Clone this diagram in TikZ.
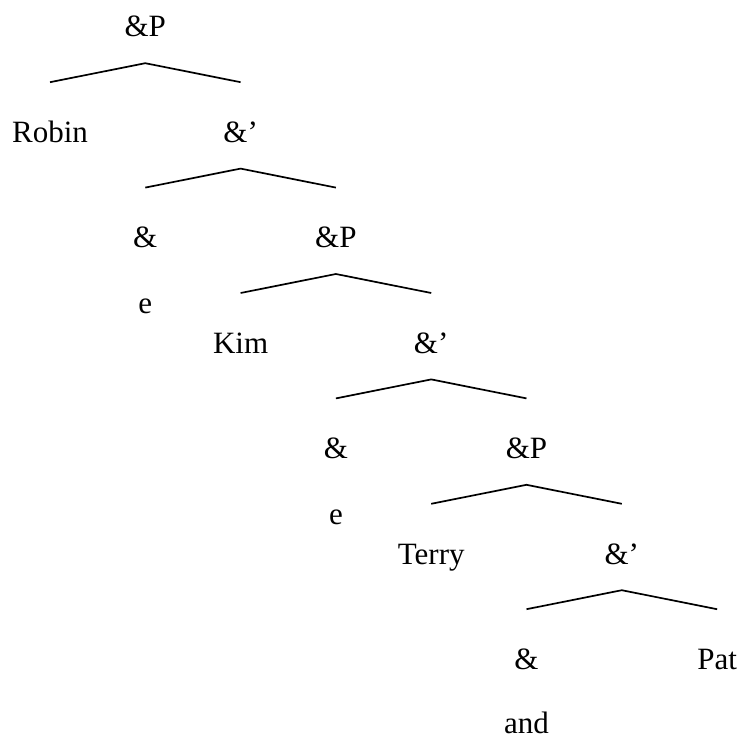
\documentclass[tikz,border=0pt]{standalone}
\usepackage{fontspec}
\setmainfont{Liberation Serif}
\begin{document}
\begin{tikzpicture}[x=1pt,y=-1pt,
  word/.style={anchor=base,inner sep=0pt,font=\fontsize{31}{37}\selectfont},
  lbl/.style={word,text height=60pt,text depth=26pt},
  branch/.style={line width=1.7pt}]
\useasboundingbox (0,0) rectangle (743,738);
% columns step 95.3, rows step 105.4
\node[lbl] (p0) at (145.3,37)   {\&P};
\node[lbl] (robin) at (50,142.4) {Robin};
\node[lbl] (b1) at (240.6,142.4) {\&'};
\node[lbl] (a1) at (145.3,247.8) {\&};
\node[lbl] (p1) at (335.9,247.8) {\&P};
\node[word] (e1) at (145.3,313.5) {e};
\node[lbl] (kim) at (240.6,353.2) {Kim};
\node[lbl] (b2) at (431.2,353.2) {\&'};
\node[lbl] (a2) at (335.9,458.6) {\&};
\node[lbl] (p2) at (526.5,458.6) {\&P};
\node[word] (e2) at (335.9,524.2) {e};
\node[lbl] (terry) at (431.2,564) {Terry};
\node[lbl] (b3) at (621.8,564) {\&'};
\node[lbl] (a3) at (526.5,669.4) {\&};
\node[lbl] (pat) at (717.1,669.4) {Pat};
\node[word] (and) at (526.5,733) {and};
% branches
\draw[branch] (robin.north) -- (p0.south) -- (b1.north);
\draw[branch] (a1.north) -- (b1.south) -- (p1.north);
\draw[branch] (kim.north) -- (p1.south) -- (b2.north);
\draw[branch] (a2.north) -- (b2.south) -- (p2.north);
\draw[branch] (terry.north) -- (p2.south) -- (b3.north);
\draw[branch] (a3.north) -- (b3.south) -- (pat.north);
\end{tikzpicture}
\end{document}
